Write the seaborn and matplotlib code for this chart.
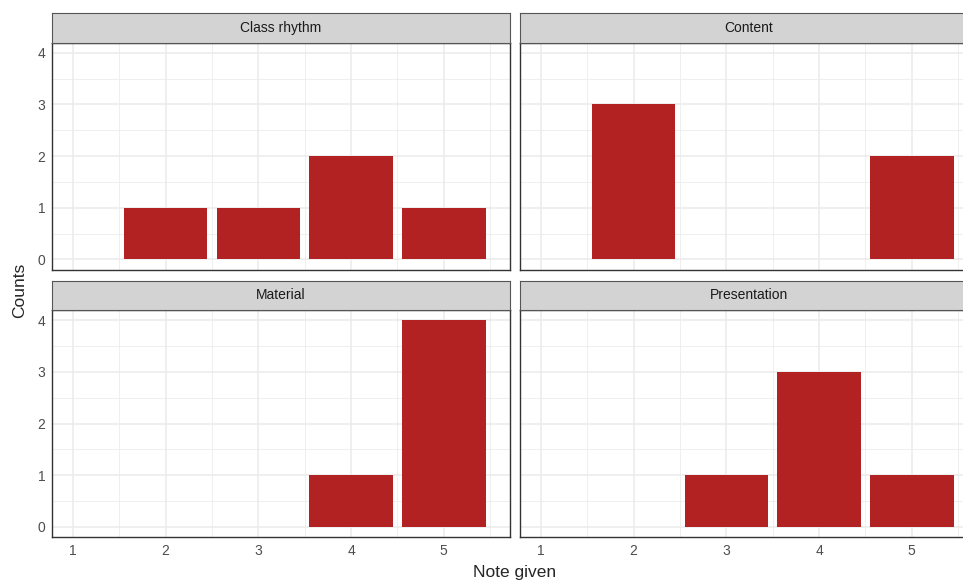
import numpy as np
import pandas as pd
import seaborn as sns
import matplotlib.pyplot as plt

# facets and counts per note (1..5)
facets = ['Class rhythm', 'Content', 'Material', 'Presentation']
notes = [1, 2, 3, 4, 5]
counts_class = [0, 1, 1, 2, 1]
counts_content = [0, 3, 0, 0, 2]
counts_material = [0, 0, 0, 1, 4]
counts_present = [0, 0, 1, 3, 1]

rows = []
for f, c in zip(facets, [counts_class, counts_content, counts_material, counts_present]):
    for n, v in zip(notes, c):
        rows.append({'facet': f, 'note': n, 'count': v})
df = pd.DataFrame(rows)

sns.set_style('white')
plt.rcParams['font.family'] = ['Liberation Sans', 'DejaVu Sans']

W, H = 963, 583
fig = plt.figure(figsize=(W / 100, H / 100), dpi=100)

# panel boxes in pixels: left, top, width, height
pw, ph = 457.4, 227.2
lefts = [52.3, 520.3]
tops = [42.5, 310.0]
strip_h = 29.5

def px(l, t, w, h):
    return [l / W, 1 - (t + h) / H, w / W, h / H]

grid_c = '#EBEBEB'
dark = '#333333'

for i, f in enumerate(facets):
    r, c = divmod(i, 2)
    l, t = lefts[c], tops[r]
    ax = fig.add_axes(px(l, t, pw, ph))
    sub = df[df['facet'] == f]
    sns.barplot(data=sub, x='note', y='count', native_scale=True, width=0.9,
                color='#B22222', saturation=1, linewidth=0, errorbar=None, ax=ax)
    ax.set_xlim(0.777, 5.711)
    ax.set_ylim(-0.2, 4.2)
    ax.set_xticks(notes)
    ax.set_yticks([0, 1, 2, 3, 4])
    ax.set_xticks(np.arange(1.5, 5.6, 1), minor=True)
    ax.set_yticks(np.arange(0.5, 4.0, 1), minor=True)
    ax.grid(True, which='major', color=grid_c, lw=1.1)
    ax.grid(True, which='minor', color=grid_c, lw=0.55)
    ax.set_axisbelow(True)
    for s in ax.spines.values():
        s.set_color(dark)
        s.set_linewidth(1.0)
    ax.tick_params(which='major', length=3, width=0.9, color=dark,
                   labelsize=10, labelcolor='#4D4D4D', pad=2)
    ax.tick_params(which='minor', length=0)
    ax.set_xlabel('')
    ax.set_ylabel('')
    if r == 0:
        ax.tick_params(axis='x', labelbottom=False, length=0)
    if c == 1:
        ax.tick_params(axis='y', labelleft=False, length=0)

    sax = fig.add_axes(px(l, t - strip_h, pw, strip_h))
    sax.set_facecolor('#D3D3D3')
    sax.set_xticks([])
    sax.set_yticks([])
    for s in sax.spines.values():
        s.set_color('#555555')
        s.set_linewidth(0.8)
    sax.text(0.5, 0.5, f, transform=sax.transAxes, ha='center', va='center',
             fontsize=10, color='#1A1A1A')

fig.text(20 / W, 1 - 290 / H, 'Counts', rotation=90, ha='center', va='center',
         fontsize=12.5)
fig.text(515 / W, 1 - 572 / H, 'Note given', ha='center', va='center',
         fontsize=12.5)

fig.savefig('out.png', dpi=100)
